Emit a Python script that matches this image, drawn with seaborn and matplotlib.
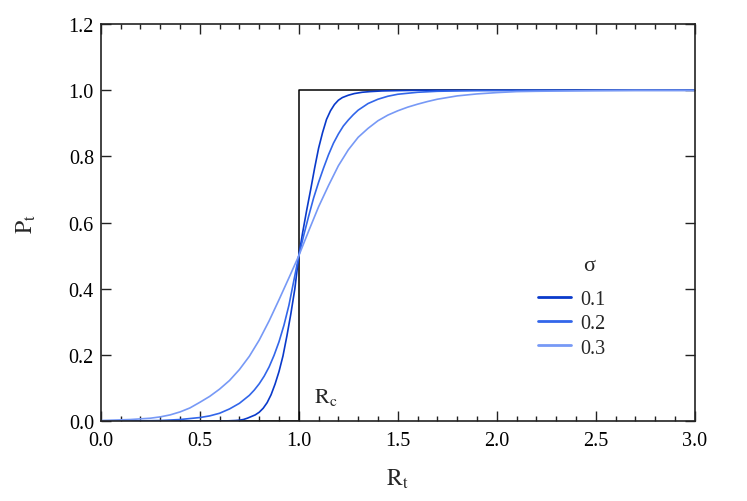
import pandas as pd
import seaborn as sns
import matplotlib
matplotlib.use("Agg")
import matplotlib.pyplot as plt
from matplotlib.ticker import MultipleLocator, FormatStrFormatter

# values
sigmas = ["0.1", "0.2", "0.3"]

r_01 = [0.0, 0.60, 0.64, 0.68, 0.70, 0.72, 0.74, 0.76, 0.78, 0.80, 0.82, 0.84,
        0.86, 0.88, 0.90, 0.92, 0.94, 0.96, 0.98, 1.00, 1.02, 1.04, 1.06, 1.08,
        1.10, 1.12, 1.14, 1.16, 1.18, 1.20, 1.22, 1.25, 1.28, 1.32, 1.36, 1.42,
        1.50, 1.60, 3.0]
p_01 = [0.0, 0.0, 0.001, 0.002, 0.003, 0.005, 0.009, 0.014, 0.019, 0.027, 0.039,
        0.056, 0.080, 0.112, 0.150, 0.197, 0.258, 0.325, 0.400, 0.500, 0.572,
        0.638, 0.700, 0.765, 0.825, 0.872, 0.912, 0.938, 0.957, 0.970, 0.978,
        0.985, 0.990, 0.994, 0.996, 0.998, 0.999, 1.0, 1.0]

r_02 = [0.0, 0.10, 0.20, 0.30, 0.40, 0.45, 0.50, 0.55, 0.60, 0.65, 0.70, 0.75,
        0.775, 0.80, 0.825, 0.85, 0.875, 0.90, 0.925, 0.95, 0.975, 1.00, 1.025,
        1.05, 1.075, 1.10, 1.125, 1.15, 1.175, 1.20, 1.225, 1.25, 1.275, 1.30,
        1.35, 1.40, 1.45, 1.50, 1.60, 1.70, 1.80, 1.90, 2.20, 3.0]
p_02 = [0.0, 0.0, 0.001, 0.002, 0.005, 0.008, 0.011, 0.016, 0.024, 0.037, 0.054,
        0.078, 0.094, 0.113, 0.136, 0.164, 0.199, 0.240, 0.290, 0.350, 0.425,
        0.500, 0.562, 0.620, 0.675, 0.722, 0.765, 0.805, 0.840, 0.868, 0.892,
        0.910, 0.926, 0.940, 0.960, 0.973, 0.982, 0.988, 0.994, 0.997, 0.998,
        0.999, 1.0, 1.0]

r_03 = [0.0, 0.05, 0.10, 0.15, 0.20, 0.25, 0.30, 0.35, 0.40, 0.45, 0.50, 0.55,
        0.60, 0.65, 0.70, 0.75, 0.80, 0.85, 0.90, 0.95, 1.00, 1.05, 1.10, 1.15,
        1.20, 1.25, 1.30, 1.35, 1.40, 1.45, 1.50, 1.55, 1.60, 1.65, 1.70, 1.80,
        1.90, 2.00, 2.10, 2.20, 2.35, 2.50, 2.70, 3.0]
p_03 = [0.002, 0.003, 0.004, 0.005, 0.007, 0.009, 0.013, 0.019, 0.028, 0.040,
        0.057, 0.075, 0.097, 0.123, 0.156, 0.196, 0.245, 0.303, 0.367, 0.433,
        0.500, 0.575, 0.648, 0.712, 0.772, 0.820, 0.858, 0.885, 0.908, 0.925,
        0.938, 0.949, 0.958, 0.966, 0.973, 0.983, 0.989, 0.993, 0.996, 0.997,
        0.998, 0.999, 1.0, 1.0]

# sharp threshold at R_c = 1
step_r = [0.0, 1.0, 1.0, 3.0]
step_p = [0.0, 0.0, 1.0, 1.0]

colors = ["#0a3acb", "#3266ea", "#7799f6"]

frames = []
for s, r, p in zip(sigmas, [r_01, r_02, r_03], [p_01, p_02, p_03]):
    frames.append(pd.DataFrame({"R": r, "P": p, "sigma": s}))
df = pd.concat(frames, ignore_index=True)

sns.set_theme(style="ticks")
plt.rcParams["font.family"] = ["Liberation Serif", "DejaVu Serif"]
plt.rcParams["mathtext.fontset"] = "stix"

fig = plt.figure(figsize=(7.47, 5.02), dpi=100)
ax = fig.add_axes([0.135, 0.159, 0.795, 0.791])

ax.plot(step_r, step_p, color="black", lw=1.1, zorder=1)
sns.lineplot(data=df, x="R", y="P", hue="sigma", palette=colors, sort=False,
             estimator=None, lw=1.2, ax=ax, zorder=2)

ax.set_xlim(0, 3)
ax.set_ylim(0, 1.2)
ax.xaxis.set_major_locator(MultipleLocator(0.5))
ax.xaxis.set_minor_locator(MultipleLocator(0.1))
ax.yaxis.set_major_locator(MultipleLocator(0.2))
ax.xaxis.set_major_formatter(FormatStrFormatter("%.1f"))
ax.yaxis.set_major_formatter(FormatStrFormatter("%.1f"))

ax.tick_params(axis="both", which="both", direction="in", top=True, right=True,
               colors="#222222", labelcolor="black", labelsize=14.5)
ax.tick_params(axis="both", which="major", length=7, width=1.0)
ax.tick_params(axis="x", which="minor", length=3.5, width=1.0)
ax.tick_params(axis="x", which="major", pad=7)
ax.tick_params(axis="y", which="major", pad=5)
for sp in ax.spines.values():
    sp.set_linewidth(1.2)
    sp.set_color("#222222")

ax.set_xlabel(r"$\mathrm{R_t}$", fontsize=17, labelpad=12)
ax.set_ylabel(r"$\mathrm{P_t}$", fontsize=17, labelpad=22)

ax.text(1.075, 0.057, r"$\mathrm{R_c}$", fontsize=16, va="baseline", ha="left")

leg = ax.legend(loc="upper left", bbox_to_anchor=(0.736, 0.33), frameon=False,
                fontsize=14.5, handlelength=1.65, handletextpad=0.45,
                labelspacing=0.25, borderpad=0, borderaxespad=0)
for line in leg.get_lines():
    line.set_linewidth(2.0)
ax.text(2.465, 0.471, "σ", fontsize=16, ha="center", va="center")

fig.savefig("out.png", dpi=100)
